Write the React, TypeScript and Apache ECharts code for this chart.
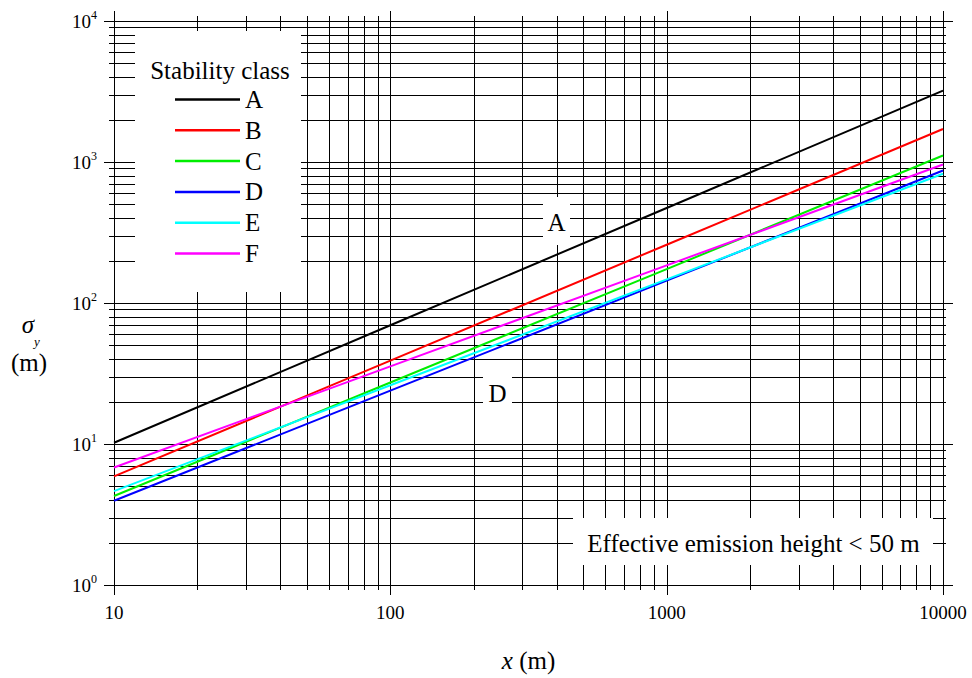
import React, { useEffect, useRef } from 'react';
import * as echarts from 'echarts';

// Downwind distance x (m) at which sigma_y values were read
const xDistances = [10, 100, 1000, 10000];
// sigma_y (m) per stability class
const classA = [10.2, 69.5, 472, 3208];
const classB = [5.89, 39.0, 259, 1713];
const classC = [4.28, 27.3, 174, 1112];
const classD = [3.96, 23.9, 144, 871];
const classE = [4.63, 26.1, 147, 826];
const classF = [6.82, 35.5, 185, 959];

const classNames = ['A', 'B', 'C', 'D', 'E', 'F'];
const classValues = [classA, classB, classC, classD, classE, classF];
const classColors = ['#000000', '#ff0000', '#00ee00', '#0000ff', '#00ffff', '#ff00ff'];

// log-paper grid lines
const xDecades = [10, 100, 1000];
const yDecades = [1, 10, 100, 1000];
const mantissas = [1, 2, 3, 4, 5, 6, 7, 8, 9];
const xGridValues = [...xDecades.flatMap((d) => mantissas.map((m) => m * d)), 10000];
const yGridValues = [...yDecades.flatMap((d) => mantissas.map((m) => m * d)), 10000];

const X_MIN = 10;
const X_MAX = 10000;
const Y_MIN = 1;
const Y_MAX = 10000;

const FONT = 'Liberation Serif';

const isMajor = (v: number) => Math.abs(Math.log10(v) - Math.round(Math.log10(v))) < 1e-9;
const crisp = (v: number) => Math.round(v) + 0.5;

export default function App() {
  const ref = useRef<HTMLDivElement>(null);

  useEffect(() => {
    if (!ref.current) return;
    const chart = echarts.init(ref.current, undefined, { renderer: 'svg' });

    const lineSeries = classNames.map((name, i) => ({
      name,
      type: 'line',
      data: xDistances.map((x, j) => [x, classValues[i][j]]),
      symbol: 'none',
      showSymbol: false,
      lineStyle: { color: classColors[i], width: 2 },
      itemStyle: { color: classColors[i] },
      z: 10,
      silent: true,
    }));

    const txt = (text: string, x: number, y: number, size = 25, style = '') => ({
      type: 'text',
      z: 11,
      x,
      y,
      style: {
        text,
        fontFamily: FONT,
        fontSize: size,
        fontStyle: style || 'normal',
        fill: '#000',
        textAlign: 'center',
        textVerticalAlign: 'middle',
      },
    });

    const option: any = {
      animation: false,
      backgroundColor: '#ffffff',
      textStyle: { fontFamily: FONT },
      grid: { left: 114, right: 29, top: 21, bottom: 81, containLabel: false },
      xAxis: {
        type: 'log',
        logBase: 10,
        min: X_MIN,
        max: X_MAX,
        axisLine: { show: false },
        axisTick: { show: false },
        splitLine: { show: false },
        axisLabel: {
          formatter: (v: number) => String(Math.round(v)),
          fontFamily: FONT,
          fontSize: 19,
          color: '#000',
          margin: 18,
        },
        name: '{i|x} (m)',
        nameLocation: 'middle',
        nameGap: 63,
        nameTextStyle: {
          fontFamily: FONT,
          fontSize: 25,
          color: '#000',
          rich: { i: { fontFamily: FONT, fontSize: 25, fontStyle: 'italic', color: '#000' } },
        },
      },
      yAxis: {
        type: 'log',
        logBase: 10,
        min: Y_MIN,
        max: Y_MAX,
        axisLine: { show: false },
        axisTick: { show: false },
        splitLine: { show: false },
        axisLabel: {
          formatter: (v: number) => `{b|10}{s|${Math.round(Math.log10(v))}}`,
          margin: 17,
          rich: {
            b: { fontFamily: FONT, fontSize: 19, color: '#000', lineHeight: 24 },
            s: { fontFamily: FONT, fontSize: 12, color: '#000', verticalAlign: 'top' },
          },
        },
      },
      legend: {
        show: true,
        z: 20,
        data: classNames,
        orient: 'vertical',
        left: 170,
        top: 82,
        padding: 5,
        icon: 'rect',
        itemWidth: 65,
        itemHeight: 2.5,
        itemGap: 5.8,
        selectedMode: false,
        textStyle: { fontFamily: FONT, fontSize: 25, color: '#000', lineHeight: 24 },
      },
      graphic: [
        { type: 'rect', z: 5, shape: { x: 135, y: 31, width: 166, height: 261 }, style: { fill: '#ffffff' } },
        { type: 'rect', z: 5, shape: { x: 543, y: 197, width: 27, height: 48 }, style: { fill: '#ffffff' } },
        { type: 'rect', z: 5, shape: { x: 483, y: 372, width: 29, height: 40 }, style: { fill: '#ffffff' } },
        { type: 'rect', z: 5, shape: { x: 573, y: 518, width: 360, height: 47 }, style: { fill: '#ffffff' } },
        txt('Stability class', 220, 70),
        txt('A', 556.5, 222),
        txt('D', 497.5, 393),
        txt('Effective emission height < 50 m', 753.5, 543),
        txt('σ', 28, 324, 25, 'italic'),
        txt('y', 37, 341, 13, 'italic'),
        txt('(m)', 29, 362),
      ],
      series: [
        {
          type: 'custom',
          name: 'vgrid',
          coordinateSystem: 'cartesian2d',
          clip: false,
          silent: true,
          z: 1,
          data: xGridValues.map((v) => [v, Y_MIN]),
          renderItem: (_params: any, api: any) => {
            const v = api.value(0);
            const top = api.coord([v, Y_MAX]);
            const bot = api.coord([v, Y_MIN]);
            const ext = isMajor(v) ? 10 : 5;
            const x = crisp(top[0]);
            return {
              type: 'line',
              shape: { x1: x, y1: top[1] - ext, x2: x, y2: bot[1] + ext },
              style: { stroke: '#000', lineWidth: 1 },
            };
          },
        },
        {
          type: 'custom',
          name: 'hgrid',
          coordinateSystem: 'cartesian2d',
          clip: false,
          silent: true,
          z: 1,
          data: yGridValues.map((v) => [X_MIN, v]),
          renderItem: (_params: any, api: any) => {
            const v = api.value(1);
            const left = api.coord([X_MIN, v]);
            const right = api.coord([X_MAX, v]);
            const extL = isMajor(v) ? 10 : 5;
            const extR = isMajor(v) ? 10 : 3;
            const y = crisp(left[1]);
            return {
              type: 'line',
              shape: { x1: left[0] - extL, y1: y, x2: right[0] + extR, y2: y },
              style: { stroke: '#000', lineWidth: 1 },
            };
          },
        },
        ...lineSeries,
      ],
    };

    chart.setOption(option);
    return () => chart.dispose();
  }, []);

  return (
    <div
      ref={ref}
      style={{ position: 'absolute', left: 0, top: 0, width: 972, height: 678 }}
    />
  );
}
